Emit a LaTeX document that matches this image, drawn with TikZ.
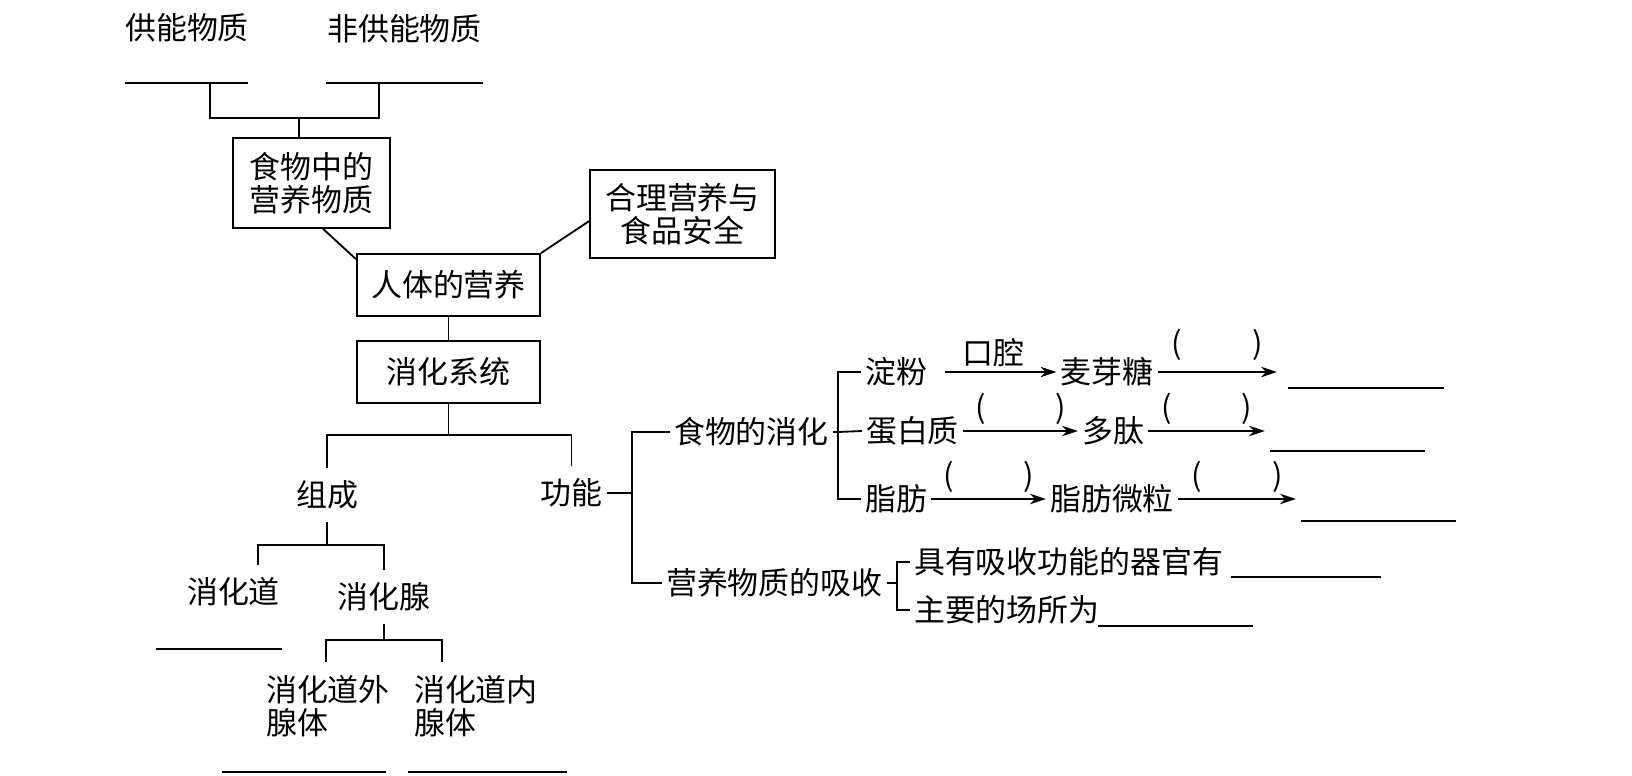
\documentclass[tikz,border=0pt]{standalone}
\usepackage{fontspec}
\newfontfamily\cjk{Noto Sans CJK SC}
\usetikzlibrary{arrows.meta}

\begin{document}
\begin{tikzpicture}[x=0.025cm,y=-0.025cm,line width=1.3pt,
  >={Stealth[length=0.4cm,width=0.26cm]},
  every node/.style={font=\cjk\fontsize{22}{23.5}\selectfont, inner xsep=0.08cm, inner ysep=0.3cm},
  box/.style={draw, align=center, inner sep=0pt},
  lbl/.style={align=left},
  arrlabel/.style={above, inner sep=0pt, yshift=0.15cm},
  blankline/.style={inner sep=0pt, minimum height=0pt, minimum width=#1}]

\useasboundingbox (0,0) rectangle (1632,776);

% define the boxes and labels
  \node (supply) at (187,28) {供能物质};
  \node (nonsupply) at (404.5,29) {非供能物质};
  \node[blankline=3.03cm] (bsupply) at (186.5,83) {};
  \node[blankline=3.88cm] (bnonsupply) at (404.5,83) {};
  \node[box, minimum width=3.93cm, minimum height=2.25cm] (food) at (311.5,183) {食物中的\\营养物质};
  \node[box, minimum width=4.58cm, minimum height=1.55cm] (body) at (448.5,285) {人体的营养};
  \node[box, minimum width=4.63cm, minimum height=2.2cm] (safety) at (682.5,214) {合理营养与\\食品安全};
  \node[box, minimum width=4.58cm, minimum height=1.55cm] (sys) at (448.5,372) {消化系统};

  \node (comp) at (327,495) {组成};
  \node (tract) at (233.5,592) {消化道};
  \node (gland) at (384,597) {消化腺};
  \node[blankline=3.1cm] (btract) at (219,649) {};
  \node[lbl, anchor=west] (outer) at (262,706) {消化道外\\腺体};
  \node[lbl, anchor=west] (inner) at (410,706) {消化道内\\腺体};
  \node[blankline=4.05cm] (bouter) at (304,772) {};
  \node[blankline=3.93cm] (binner) at (487.5,772) {};

  \node (func) at (571.5,493) {功能};
  \node[anchor=west] (digest) at (670,432) {食物的消化};
  \node[anchor=west] (absorb) at (662,583) {营养物质的吸收};

  \node (starch) at (896,372) {淀粉};
  \node (maltose) at (1107,372) {麦芽糖};
  \node (protein) at (912.5,431) {蛋白质};
  \node (peptide) at (1113,431) {多肽};
  \node (fat) at (896,499) {脂肪};
  \node (fatdrop) at (1112,499) {脂肪微粒};
  \coordinate (emaltose) at (1277,372);
  \coordinate (epeptide) at (1265,431);
  \coordinate (efatdrop) at (1296,499);
  \node[blankline=3.85cm] (bmaltose) at (1366,388) {};
  \node[blankline=3.83cm] (bpeptide) at (1347.5,451) {};
  \node[blankline=3.83cm] (bfatdrop) at (1378.5,521) {};

  \node[anchor=west] (organ) at (910,562) {具有吸收功能的器官有};
  \node[anchor=west] (site) at (910,610) {主要的场所为};
  \node[blankline=3.7cm] (borgan) at (1306,577) {};
  \node[blankline=3.83cm] (bsite) at (1175.5,626) {};

  \foreach \b in {bsupply,bnonsupply,btract,bouter,binner,bmaltose,bpeptide,bfatdrop,borgan,bsite}
    \draw (\b.west) -- (\b.east);

% define the links
  \coordinate (jtop) at (299,118);
  \coordinate (jsupply) at (210,118);
  \coordinate (jnonsupply) at (379,118);
  \draw (jsupply |- bsupply.center) -- (jsupply) -- (jnonsupply) -- (jnonsupply |- bnonsupply.center);
  \draw (jtop) -- (jtop |- food.north);
  \draw ([xshift=0.29cm]food.south) -- ([yshift=-0.15cm]body.north west);
  \draw (body.north east) -- ([yshift=-0.18cm]safety.west);
  \draw (body) -- (sys);

  \coordinate (jsys) at (448.5,435);
  \draw (sys) -- (jsys);
  \draw (comp.north) |- (jsys) -| (func.north);
  \coordinate (jcomp) at (327,545);
  \draw (comp) -- (jcomp);
  \draw ([xshift=0.61cm]tract.north) |- (jcomp) -| (gland.north);
  \coordinate (jgland) at (384,640);
  \draw (gland) -- (jgland);
  \draw ([xshift=1.6cm]outer.north west) |- (jgland) -| ([xshift=0.8cm]inner.north west);

  \coordinate (jfunc) at (632,493);
  \draw (func) -- (jfunc);
  \draw (digest.west) -| (jfunc) |- (absorb.west);
  \coordinate (jdigest) at (838,432);
  \draw (digest) -- (jdigest);
  \draw (starch.west) -| (jdigest) |- (fat.west);
  \draw (jdigest) -- (protein.west);
  \coordinate (jabsorb) at (897,583);
  \draw (absorb) -- (jabsorb);
  \draw (organ.west) -| (jabsorb) |- (site.west);

  \draw[->, shorten <=0.35cm] (starch) -- node[arrlabel, yshift=-0.05cm] {口腔} (maltose);
  \draw[->] (maltose) -- node[arrlabel, yshift=0.12cm] {(\hspace{1.75cm})} (emaltose);
  \draw[->] (protein) -- node[arrlabel] {(\hspace{1.75cm})} (peptide);
  \draw[->] (peptide) -- node[arrlabel] {(\hspace{1.75cm})} (epeptide);
  \draw[->] (fat) -- node[arrlabel] {(\hspace{1.75cm})} (fatdrop);
  \draw[->] (fatdrop) -- node[arrlabel] {(\hspace{1.75cm})} (efatdrop);

\end{tikzpicture}
\end{document}
